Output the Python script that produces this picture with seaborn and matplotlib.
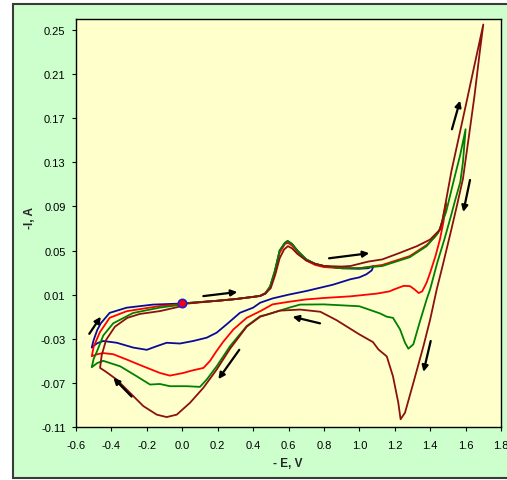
import numpy as np
import pandas as pd
import matplotlib
matplotlib.use("Agg")
import matplotlib.pyplot as plt
from matplotlib.patches import Rectangle
import seaborn as sns

# Cyclic voltammograms: potential (-E, V) and current (-I, A), one scan per colour
blue_E = [0.0, 0.1, 0.2, 0.3, 0.4, 0.44, 0.47, 0.496, 0.523, 0.55, 0.58, 0.595, 0.62, 0.65, 0.70, 0.75, 0.80, 0.90, 1.0, 1.05, 1.08,
          1.07, 1.04, 1.0, 0.95, 0.85, 0.70, 0.60, 0.51, 0.44, 0.40, 0.326, 0.25, 0.194, 0.138, 0.062, -0.013, -0.088, -0.144, -0.20,
          -0.276, -0.37, -0.446, -0.48, -0.505, -0.511,
          -0.505, -0.50, -0.48, -0.46, -0.41, -0.314, -0.165, -0.08, 0.0]
blue_I = [0.002, 0.0033, 0.0045, 0.006, 0.008, 0.0087, 0.011, 0.017, 0.031, 0.050, 0.057, 0.0587, 0.056, 0.050, 0.042, 0.038, 0.036, 0.034, 0.0335, 0.034, 0.036,
          0.032, 0.0285, 0.0257, 0.024, 0.019, 0.0133, 0.010, 0.0066, 0.0027, -0.0018, -0.0064, -0.017, -0.0245, -0.029, -0.032, -0.0343, -0.0336, -0.0367, -0.040,
          -0.038, -0.0336, -0.032, -0.034, -0.037, -0.038,
          -0.034, -0.031, -0.022, -0.016, -0.0065, -0.0018, 0.001, 0.0015, 0.002]

red_E = [0.0, 0.1, 0.2, 0.3, 0.4, 0.44, 0.47, 0.496, 0.523, 0.55, 0.58, 0.597, 0.62, 0.65, 0.70, 0.75, 0.80, 0.90, 1.0, 1.13, 1.285, 1.38, 1.43, 1.455, 1.47, 1.49,
         1.475, 1.455, 1.43, 1.40, 1.38, 1.355, 1.335, 1.31, 1.285, 1.25, 1.2, 1.17, 1.1, 0.95, 0.80, 0.70, 0.60, 0.51, 0.44, 0.364, 0.289, 0.23, 0.19, 0.157,
         0.12, 0.05, 0.006, -0.07, -0.126, -0.22, -0.314, -0.39, -0.446, -0.48, -0.511,
         -0.50, -0.465, -0.41, -0.314, -0.126, 0.0]
red_I = [0.002, 0.0033, 0.0045, 0.006, 0.008, 0.009, 0.0115, 0.017, 0.030, 0.048, 0.056, 0.057, 0.0545, 0.049, 0.041, 0.037, 0.035, 0.034, 0.034, 0.037, 0.045, 0.055, 0.063, 0.069, 0.078, 0.093,
         0.076, 0.060, 0.045, 0.030, 0.021, 0.013, 0.0115, 0.015, 0.0178, 0.018, 0.015, 0.013, 0.011, 0.0085, 0.007, 0.0057, 0.0035, 0.0012, -0.005, -0.011, -0.0215, -0.033, -0.042, -0.050,
         -0.0564, -0.059, -0.061, -0.0634, -0.061, -0.055, -0.0488, -0.044, -0.043, -0.044, -0.0458,
         -0.037, -0.024, -0.011, -0.005, -0.0003, 0.0015]

green_E = [0.0, 0.1, 0.2, 0.3, 0.4, 0.44, 0.47, 0.496, 0.523, 0.55, 0.58, 0.595, 0.62, 0.65, 0.70, 0.75, 0.80, 0.90, 1.0, 1.13, 1.285, 1.38, 1.445, 1.49, 1.53, 1.57, 1.60,
           1.585, 1.57, 1.54, 1.515, 1.48, 1.44, 1.40, 1.38, 1.34, 1.305, 1.277, 1.258, 1.23, 1.19, 1.155, 1.117, 1.0, 0.8, 0.665, 0.61, 0.48, 0.44, 0.364, 0.27,
           0.194, 0.138, 0.10, 0.025, -0.07, -0.126, -0.182, -0.257, -0.35, -0.446, -0.48, -0.511,
           -0.50, -0.483, -0.446, -0.39, -0.278, -0.126, 0.0]
green_I = [0.002, 0.0033, 0.0045, 0.006, 0.008, 0.009, 0.0115, 0.0175, 0.032, 0.050, 0.057, 0.0585, 0.056, 0.050, 0.042, 0.038, 0.036, 0.034, 0.034, 0.036, 0.044, 0.054, 0.066, 0.085, 0.1115, 0.137, 0.160,
           0.13, 0.112, 0.095, 0.080, 0.060, 0.039, 0.015, 0.0057, -0.0155, -0.035, -0.039, -0.0336, -0.0215, -0.011, -0.010, -0.007, -0.0005, 0.0012, 0.001, -0.0015, -0.008, -0.0095, -0.0185, -0.0367,
           -0.055, -0.067, -0.0736, -0.073, -0.073, -0.071, -0.0715, -0.064, -0.055, -0.050, -0.052, -0.0558,
           -0.048, -0.042, -0.027, -0.016, -0.0066, -0.0017, 0.001]

maroon_E = [0.0, 0.1, 0.2, 0.3, 0.4, 0.44, 0.47, 0.50, 0.525, 0.55, 0.575, 0.597, 0.62, 0.65, 0.70, 0.75, 0.80, 0.90, 0.95, 1.05, 1.13, 1.23, 1.325, 1.40, 1.455, 1.47, 1.52, 1.565, 1.607, 1.65, 1.70,
            1.68, 1.65, 1.62, 1.585, 1.55, 1.515, 1.47, 1.437, 1.40, 1.362, 1.305, 1.258, 1.233, 1.22, 1.19, 1.155, 1.108, 1.077, 1.0, 0.93, 0.87, 0.78, 0.665, 0.55,
            0.48, 0.44, 0.364, 0.27, 0.194, 0.119, 0.044, -0.031, -0.088, -0.144, -0.22, -0.295, -0.37, -0.43, -0.464,
            -0.455, -0.43, -0.38, -0.31, -0.24, -0.126, 0.0]
maroon_I = [0.0015, 0.003, 0.0045, 0.006, 0.008, 0.009, 0.011, 0.016, 0.028, 0.043, 0.051, 0.054, 0.052, 0.047, 0.041, 0.038, 0.036, 0.0355, 0.036, 0.040, 0.042, 0.048, 0.054, 0.060, 0.069, 0.078, 0.122, 0.155, 0.186, 0.218, 0.255,
            0.23, 0.19, 0.155, 0.115, 0.09, 0.066, 0.036, 0.0148, -0.0125, -0.0367, -0.070, -0.097, -0.103, -0.088, -0.064, -0.046, -0.0397, -0.033, -0.026, -0.019, -0.013, -0.0055, -0.0035, -0.0045,
            -0.008, -0.010, -0.019, -0.039, -0.058, -0.0745, -0.088, -0.0988, -0.101, -0.0988, -0.091, -0.079, -0.067, -0.060, -0.0564,
            -0.045, -0.031, -0.019, -0.011, -0.0075, -0.0049, -0.0003]

start_E = [0.0]
start_I = [0.002]

# Scan-direction arrows: (E_from, I_from, E_to, I_to)
arrows = [
    (-0.525, -0.0255, -0.46, -0.010),
    (0.119, 0.0087, 0.311, 0.0124),
    (0.322, -0.040, 0.204, -0.0666),
    (-0.286, -0.0824, -0.389, -0.0655),
    (0.829, 0.043, 1.056, 0.0476),
    (0.778, -0.016, 0.623, -0.010),
    (1.403, -0.032, 1.362, -0.060),
    (1.523, 0.160, 1.569, 0.186),
    (1.625, 0.114, 1.587, 0.085),
]

x_ticks = [-0.6, -0.4, -0.2, 0.0, 0.2, 0.4, 0.6, 0.8, 1.0, 1.2, 1.4, 1.6, 1.8]
y_ticks = [-0.11, -0.07, -0.03, 0.01, 0.05, 0.09, 0.13, 0.17, 0.21, 0.25]

sns.set_theme(style="ticks")
plt.rcParams["font.family"] = ["Liberation Sans", "DejaVu Sans"]
plt.rcParams["axes.unicode_minus"] = False

W, H = 507, 481
fig = plt.figure(figsize=(W / 100, H / 100), dpi=100, facecolor="white")

# green panel behind the chart
bg = fig.add_axes([0, 0, 1, 1], zorder=0)
bg.set_xlim(0, W)
bg.set_ylim(H, 0)
bg.axis("off")
bg.add_patch(Rectangle((13, 5), 520, 474, facecolor="#CCFFCC", edgecolor="#3a3a3a", linewidth=1.5))

ax = fig.add_axes([76 / W, 1 - 428 / H, 425 / W, 408 / H], zorder=2)
ax.set_facecolor("#FFFFCC")

curves = [
    (blue_E, blue_I, "#0A0A9A"),
    (red_E, red_I, "#FF0000"),
    (green_E, green_I, "#008000"),
    (maroon_E, maroon_I, "#8B1010"),
]
for E, I, col in curves:
    df = pd.DataFrame({"E": E, "I": I})
    sns.lineplot(data=df, x="E", y="I", sort=False, estimator=None, color=col, linewidth=1.3, ax=ax, legend=False)

ax.plot(start_E, start_I, "o", markersize=6, markerfacecolor="#FF0000", markeredgecolor="#2020E0", markeredgewidth=1.2, zorder=5)

for e0, i0, e1, i1 in arrows:
    ax.annotate("", xy=(e1, i1), xytext=(e0, i0),
                arrowprops=dict(arrowstyle="-|>", color="black", lw=1.6, mutation_scale=9, shrinkA=0, shrinkB=0))

ax.set_xlim(-0.6, 1.8)
ax.set_ylim(-0.11, 0.26)
ax.set_xticks(x_ticks)
ax.set_xticklabels([f"{v:.1f}" for v in x_ticks])
ax.set_yticks(y_ticks)
ax.set_yticklabels([f"{v:.2f}" for v in y_ticks])
ax.tick_params(axis="both", direction="out", length=3, width=0.8, labelsize=8, colors="black")
ax.tick_params(axis="x", pad=6.5)
ax.tick_params(axis="y", pad=4.5)
for s in ax.spines.values():
    s.set_color("black")
    s.set_linewidth(1.0)
ax.set_xlabel("")
ax.set_ylabel("")

fig.text(30 / W, 1 - 218 / H, "-I, A", rotation=90, ha="center", va="center", fontsize=8.5, fontweight="bold", zorder=3)
fig.text(288 / W, 1 - 464 / H, "- E, V", ha="center", va="center", fontsize=8.5, fontweight="bold", zorder=3)

fig.savefig("out.png", dpi=100, facecolor=fig.get_facecolor())
